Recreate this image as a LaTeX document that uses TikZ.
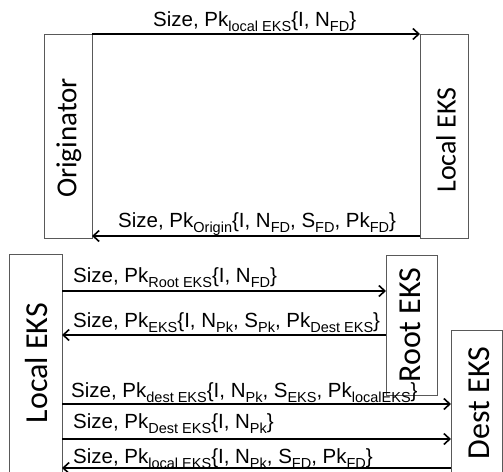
\documentclass[tikz,border=0pt]{standalone}
\usepackage{fontspec}
\setmainfont{Liberation Sans}
\newfontfamily\boxfont{Carlito}
\usetikzlibrary{arrows.meta}
\newcommand\lowsub[1]{\raisebox{-5pt}{\fontsize{14.5}{15}\selectfont #1}}
\tikzset{
  box/.style={draw=black!65, line width=1pt, fill=white, inner sep=0pt, outer sep=0pt},
  boxlabel/.style={rotate=90, inner sep=0pt, font=\boxfont\fontsize{#1}{#1}\selectfont},
  msg/.style={line width=2pt, -{Straight Barb[length=6pt,width=11pt,line width=1.6pt]}},
  msglabel/.style={anchor=base west, inner sep=0pt, font=\fontsize{20.5}{22}\selectfont}
}
\begin{document}
\begin{tikzpicture}[x=1pt,y=-1pt]
\useasboundingbox (0,0) rectangle (503,471);
% top section
\node[box, minimum width=48pt, minimum height=204pt] (orig) at (68,136) {};
\node[box, minimum width=48pt, minimum height=204pt] (leksa) at (444,136) {};
\node[boxlabel=29] (origlab) at (69,138) {Originator};
\node[boxlabel=28] (leksalab) at (446,140) {Local EKS};
\coordinate (ya) at (0,236);
\draw[msg] (orig.north east) -- (leksa.north west);
\draw[msg] (leksa.west |- ya) -- (orig.east |- ya);
\node[msglabel] (la) at (153,27) {Size, Pk\lowsub{local EKS}\{I, N\lowsub{FD}\}};
\node[msglabel] (lb) at (118,227) {Size, Pk\lowsub{Origin}\{I, N\lowsub{FD}, S\lowsub{FD}, Pk\lowsub{FD}\}};
% bottom section
\node[box, minimum width=53pt, minimum height=230pt] (leksb) at (35.5,369) {};
\node[box, minimum width=51pt, minimum height=140pt] (root) at (411.5,325) {};
\node[box, minimum width=51pt, minimum height=154pt] (dest) at (476.5,407) {};
\node[boxlabel=32] (leksblab) at (37,363) {Local EKS};
\node[boxlabel=32] (rootlab) at (410,325) {Root EKS};
\node[boxlabel=32] (destlab) at (479,403) {Dest EKS};
\coordinate (y1) at (0,291);
\coordinate (y2) at (0,335);
\coordinate (y3) at (0,404);
\coordinate (y4) at (0,439);
\coordinate (y5) at (0,468);
\draw[msg] (leksb.east |- y1) -- (root.west |- y1);
\draw[msg] (root.west |- y2) -- (leksb.east |- y2);
\draw[msg] (leksb.east |- y3) -- (dest.west |- y3);
\draw[msg] (leksb.east |- y4) -- (dest.west |- y4);
\draw[msg] (dest.west |- y5) -- (leksb.east |- y5);
\node[msglabel] (l1) at (73,282) {Size, Pk\lowsub{Root EKS}\{I, N\lowsub{FD}\}};
\node[msglabel] (l2) at (73,327) {Size, Pk\lowsub{EKS}\{I, N\lowsub{Pk}, S\lowsub{Pk}, Pk\lowsub{Dest EKS}\}};
\node[msglabel] (l3) at (71,397) {Size, Pk\lowsub{dest EKS}\{I, N\lowsub{Pk}, S\lowsub{EKS}, Pk\lowsub{localEKS}\}};
\node[msglabel] (l4) at (73,428) {Size, Pk\lowsub{Dest EKS}\{I, N\lowsub{Pk}\}};
\node[msglabel] (l5) at (73,463) {Size, Pk\lowsub{local EKS}\{I, N\lowsub{Pk}, S\lowsub{FD}, Pk\lowsub{FD}\}};
\end{tikzpicture}
\end{document}
